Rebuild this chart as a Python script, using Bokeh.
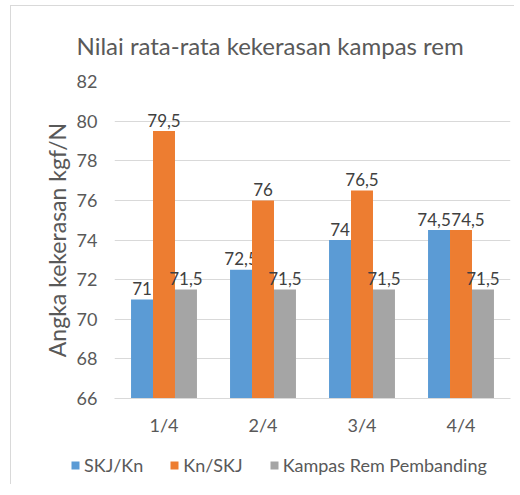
from bokeh.plotting import figure
from bokeh.layouts import column
from bokeh.models import ColumnDataSource, FactorRange, Range1d, Legend, LegendItem, Title, FixedTicker
from bokeh.transform import dodge
from bokeh.core.properties import value
from bokeh.embed import file_html
from bokeh.resources import INLINE

categories = ["1/4", "2/4", "3/4", "4/4"]
skj_kn = [71, 72.5, 74, 74.5]
kn_skj = [79.5, 76, 76.5, 74.5]
pembanding = [71.5, 71.5, 71.5, 71.5]
series_names = ["SKJ/Kn", "Kn/SKJ", "Kampas Rem Pembanding"]
y_ticks = [66, 68, 70, 72, 74, 76, 78, 80, 82]
title_text = "Nilai rata-rata kekerasan kampas rem"
y_label = "Angka kekerasan kgf/N"

colors = ["#5B9BD5", "#ED7D31", "#A5A5A5"]
FONT = "Lato"
GRID = "#D9D9D9"


def fmt(v):
    return ("%g" % v).replace(".", ",")


series = [skj_kn, kn_skj, pembanding]
bar_w = 0.222
offsets = [-bar_w, 0.0, bar_w]

# labels of neighbouring bars with equal values are nudged apart (as the original does)
same = [abs(a - b) < 0.25 for a, b in zip(skj_kn, kn_skj)]
nudges = [[-5 if s else 0 for s in same], [7 if s else 0 for s in same], [0 for _ in same]]

# ---------------- main chart ----------------
p = figure(
    x_range=FactorRange(*categories, range_padding=0),
    y_range=Range1d(y_ticks[0], y_ticks[-1]),
    width=504, height=440,
    min_border_left=103, min_border_right=5, min_border_top=74, min_border_bottom=48,
    output_backend="svg", toolbar_location=None,
)
p.frame_align = False
p.outline_line_color = None
p.background_fill_color = "white"
p.border_fill_color = "white"
p.styles = {"border-left": "1px solid " + GRID, "border-top": "1px solid " + GRID}

for name, vals, col, off, nud in zip(series_names, series, colors, offsets, nudges):
    src = ColumnDataSource(dict(cat=categories, val=vals, lab=[fmt(v) for v in vals], dx=nud))
    p.vbar(x=dodge("cat", off, range=p.x_range), top="val", bottom=y_ticks[0],
           width=bar_w, source=src, fill_color=col, line_color=None)
    p.text(x=dodge("cat", off, range=p.x_range), y="val", text="lab", source=src,
           x_offset="dx", text_align="center", text_baseline="alphabetic", y_offset=-11,
           text_font=value(FONT), text_font_size="17px", text_color="#404040")

p.yaxis.ticker = FixedTicker(ticks=y_ticks)
p.yaxis.axis_line_color = None
p.yaxis.major_tick_line_color = None
p.yaxis.minor_tick_line_color = None
p.yaxis.major_label_standoff = 11
p.yaxis.major_label_text_font = FONT
p.yaxis.major_label_text_font_size = "18px"
p.yaxis.major_label_text_color = "#595959"
p.yaxis.axis_label = y_label
p.yaxis.axis_label_text_font = FONT
p.yaxis.axis_label_text_font_size = "23px"
p.yaxis.axis_label_text_font_style = "normal"
p.yaxis.axis_label_text_color = "#595959"
p.yaxis.axis_label_standoff = 3

p.xaxis.axis_line_color = GRID
p.xaxis.major_tick_line_color = None
p.xaxis.minor_tick_line_color = None
p.xaxis.major_label_standoff = 9
p.xaxis.major_label_text_font = FONT
p.xaxis.major_label_text_font_size = "18px"
p.xaxis.major_label_text_color = "#595959"

p.xgrid.grid_line_color = None
p.ygrid.grid_line_color = GRID
p.ygrid.grid_line_width = 1

p.add_layout(Title(text=title_text, align="left", offset=-38, standoff=44,
                   text_font=FONT, text_font_size="24px", text_font_style="normal",
                   text_color="#595959"), "above")

# ---------------- legend strip ----------------
q = figure(
    x_range=FactorRange(*categories, range_padding=0),
    y_range=Range1d(0, 1),
    width=504, height=39,
    x_axis_location=None, y_axis_location=None,
    min_border_left=0, min_border_right=0, min_border_top=0, min_border_bottom=0,
    output_backend="svg", toolbar_location=None,
)
q.frame_align = False
q.grid.grid_line_color = None
q.outline_line_color = None
q.border_fill_color = "white"
q.background_fill_color = "white"
q.styles = {"border-left": "1px solid " + GRID}

items = []
for name, vals, col, off in zip(series_names, series, colors, offsets):
    src = ColumnDataSource(dict(cat=categories, val=vals))
    r = q.vbar(x=dodge("cat", off, range=q.x_range), top="val", bottom=y_ticks[0],
               width=bar_w, source=src, fill_color=col, line_color=None, visible=False)
    items.append(LegendItem(label=name, renderers=[r]))

legend = Legend(items=items, orientation="horizontal", location=(59, 8),
                padding=0, margin=0, spacing=26, label_standoff=4,
                glyph_width=10, glyph_height=10,
                label_text_font=FONT, label_text_font_size="18px",
                label_text_color="#595959", border_line_color=None,
                background_fill_alpha=0)
q.add_layout(legend, "center")

layout = column(p, q, spacing=0, styles={"margin-left": "10px", "margin-top": "5px"})
open("out.html", "w").write(file_html(layout, INLINE))
